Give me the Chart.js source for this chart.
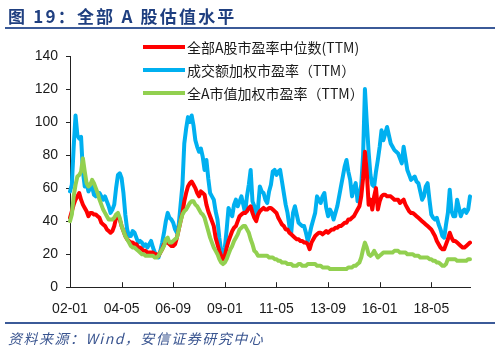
<!DOCTYPE html>
<html>
<head>
<meta charset="utf-8">
<script src="https://cdn.jsdelivr.net/npm/chart.js@4.4.1/dist/chart.umd.min.js"></script>
<style>
  html, body { margin: 0; padding: 0; background: #fff; }
  #wrap { position: relative; width: 500px; height: 347px; overflow: hidden; }
  #chart { position: absolute; left: 0; top: 0; }
  .title {
    position: absolute; left: 8px; top: 3px;
    font: bold 17px "Noto Sans CJK SC", sans-serif; letter-spacing: 2.2px;
    color: #1f3f80; white-space: nowrap;
  }
  .rule { position: absolute; left: 5px; right: 5px; background: #3b5a98; }
  .source {
    position: absolute; left: 8px; top: 328px;
    font: italic 14px "Noto Sans CJK SC", sans-serif; letter-spacing: 1.5px;
    color: #3a5590; white-space: nowrap;
  }
</style>
</head>
<body>
<div id="wrap">
  <canvas id="chart" width="500" height="347"></canvas>
  <div class="title">图 19：全部 A 股估值水平</div>
  <div class="rule" style="top:27px;height:2px"></div>
  <div class="rule" style="top:322px;height:1.5px"></div>
  <div class="source">资料来源：Wind，安信证券研究中心</div>
</div>
<script>
// 月度序列：2002-01 起
const startYear = 2002;
const monthCount = 218;
const tickLabels = ['02-01', '04-05', '06-09', '09-01', '11-05', '13-09', '16-01', '18-05'];
const seriesNames = ['全部A股市盈率中位数(TTM)', '成交额加权市盈率（TTM）', '全A市值加权市盈率（TTM）'];

// 全部A股市盈率中位数
const medianPE = [
  42, 46, 50, 53, 55, 57, 53, 50, 48, 46, 43, 45,
  45, 44, 44, 43, 42, 39, 38, 37, 35, 34, 33, 34,
  37, 42, 43, 41, 37, 34, 31, 29, 28, 27, 27, 26,
  26, 24, 24, 23, 22, 22, 21, 21, 21, 21, 20, 20,
  19, 21, 23, 26, 27, 27, 26, 25, 25, 26, 30, 35,
  40, 45, 52, 57, 61, 63, 64, 62, 60, 57, 55, 58,
  57, 56, 50, 46, 43, 40, 37, 30, 26, 22, 19, 17,
  19, 24, 28, 31, 34, 36, 37, 40, 43, 44, 45, 45,
  46, 48, 49, 45, 42, 40, 44, 46, 47, 48, 47, 47,
  48, 48, 47, 46, 45, 42, 40, 38, 37, 35, 35, 33,
  32, 31, 30, 29, 29, 28, 28, 27, 27, 26, 23, 27,
  29, 31, 32, 33, 33, 32, 33, 34, 33, 34, 35, 35,
  36, 36, 37, 37, 38, 39, 39, 41, 41, 42, 43, 45,
  47, 49, 55, 66, 82, 70, 50, 53, 47, 55, 60, 47,
  52, 55, 56, 56, 55, 55, 55, 54, 53, 53, 53, 51,
  52, 53, 50, 48, 46, 45, 45, 44, 43, 42, 41, 40,
  39, 38, 37, 36, 35, 33, 31, 28, 26, 24, 23, 23,
  26, 29, 33, 30, 28, 28, 27, 26, 25, 24, 24, 25,
  26, 27
];

// 成交额加权市盈率
const turnoverPE = [
  58, 62, 85, 104, 92, 90, 91, 70, 61, 63, 58, 60,
  61, 56, 55, 57, 57, 55, 53, 55, 52, 49, 45, 47,
  50, 60, 68, 69, 66, 57, 44, 35, 31, 31, 34, 33,
  30, 27, 28, 27, 25, 26, 24, 26, 28, 24, 21, 19,
  18, 22, 27, 33, 40, 45, 42, 41, 39, 35, 33, 38,
  50, 62, 87, 96, 103, 100, 104, 98, 89, 85, 82, 84,
  79, 71, 77, 66, 57, 55, 53, 46, 41, 30, 22, 19,
  24, 35, 48, 45, 43, 50, 53, 49, 52, 55, 50, 45,
  55, 62, 71, 52, 49, 43, 48, 61, 58, 57, 53, 51,
  58, 62, 70, 71, 68, 70, 71, 64, 57, 50, 45, 37,
  33, 45, 49, 44, 39, 38, 37, 37, 33, 28, 32, 37,
  41, 45, 55, 53, 51, 55, 57, 48, 43, 47, 45, 41,
  45, 49, 55, 61, 67, 73, 77, 70, 65, 55, 60, 63,
  52, 56, 62, 80, 120, 100, 82, 68, 62, 61, 70, 77,
  85, 95, 89, 93, 97, 92, 87, 85, 83, 82, 81, 78,
  75, 85, 78, 71, 68, 65, 66, 67, 64, 63, 58, 53,
  55, 61, 63, 53, 44, 42, 41, 42, 38, 35, 31, 30,
  38, 45, 59, 46, 43, 43, 53, 48, 43, 46, 47, 45,
  47, 55
];

// 全A市值加权市盈率
const capPE = [
  40, 44, 55, 62, 67, 68, 70, 78, 70, 63, 61, 62,
  65, 63, 60, 57, 53, 50, 47, 45, 43, 41, 41, 41,
  42, 44, 45, 42, 37, 34, 31, 29, 27, 25, 24, 24,
  23, 22, 21, 20, 20, 19, 19, 19, 19, 19, 18, 18,
  19, 21, 23, 25, 29, 30, 27, 27, 28, 29, 30, 35,
  40, 44, 46, 47, 49, 51, 52, 52, 50, 49, 47, 45,
  44, 42, 38, 34, 30, 27, 24, 22, 20, 17, 15, 14,
  15, 17, 20, 23, 25, 28, 30, 32, 35, 36, 37, 37,
  35, 33, 29, 26, 22, 21, 19, 19, 19, 19, 19, 19,
  18, 18, 18, 17, 17, 16, 16, 15, 15, 15, 14, 14,
  14, 13, 13, 13, 14, 14, 13, 13, 13, 14, 14, 14,
  14, 14, 13, 13, 13, 12, 12, 12, 12, 11, 11, 11,
  11, 11, 11, 11, 11, 11, 11, 12, 12, 12, 13, 13,
  14, 15, 18, 23, 27, 24, 20, 19, 20, 22, 20, 18,
  19, 20, 21, 21, 21, 21, 21, 21, 22, 22, 22, 21,
  21, 21, 21, 20, 20, 20, 20, 19, 19, 19, 18, 18,
  18, 18, 18, 17, 17, 16, 16, 15, 15, 14, 13, 13,
  14, 17, 17, 17, 17, 17, 16, 16, 16, 16, 16, 16,
  17, 17
];

const months = [];
for (let i = 0; i < monthCount; i++) {
  const y = startYear + Math.floor(i / 12);
  const m = (i % 12) + 1;
  months.push(String(y % 100).padStart(2, '0') + '-' + String(m).padStart(2, '0'));
}

const axisFont = { family: '"Liberation Sans", Arial, sans-serif', size: 14 };

// x 轴刻度线朝内，只画有标签的月份
const innerTicks = {
  id: 'innerTicks',
  afterDraw(chart) {
    const xs = chart.scales.x;
    const ctx = chart.ctx;
    ctx.save();
    ctx.strokeStyle = '#222';
    ctx.lineWidth = 1;
    months.forEach((lab, i) => {
      if (!tickLabels.includes(lab) || i === 0) return;
      const px = Math.round(xs.getPixelForValue(i)) + 0.5;
      ctx.beginPath();
      ctx.moveTo(px, xs.top);
      ctx.lineTo(px, xs.top - 5);
      ctx.stroke();
    });
    ctx.restore();
  }
};

// 图例：右上角三行
const lineLegend = {
  id: 'lineLegend',
  afterDraw(chart) {
    const ctx = chart.ctx;
    ctx.save();
    ctx.font = '14px "Noto Sans CJK SC", sans-serif';
    ctx.textBaseline = 'middle';
    chart.data.datasets.forEach((ds, i) => {
      const y = 47 + i * 23;
      ctx.strokeStyle = ds.borderColor;
      ctx.lineWidth = 4;
      ctx.beginPath();
      ctx.moveTo(143, y);
      ctx.lineTo(185, y);
      ctx.stroke();
      ctx.fillStyle = '#1a1a1a';
      ctx.fillText(ds.label, 187, y + 1);
    });
    ctx.restore();
  }
};

new Chart(document.getElementById('chart'), {
  type: 'line',
  data: {
    labels: months,
    datasets: [
      { label: seriesNames[0], data: medianPE, borderColor: '#ff0000', order: 1 },
      { label: seriesNames[1], data: turnoverPE, borderColor: '#00b0f0', order: 2 },
      { label: seriesNames[2], data: capPE, borderColor: '#92d050', order: 0 }
    ]
  },
  options: {
    responsive: false,
    animation: false,
    devicePixelRatio: 1,
    layout: { padding: { top: 56, right: 30, bottom: 23, left: 0 } },
    elements: {
      point: { radius: 0 },
      line: { borderWidth: 4, tension: 0, borderJoinStyle: 'round', borderCapStyle: 'round' }
    },
    scales: {
      x: {
        grid: { display: false },
        border: { display: true, color: '#222', width: 1 },
        ticks: {
          display: true,
          autoSkip: false,
          maxRotation: 0,
          minRotation: 0,
          padding: 6,
          color: '#1a1a1a',
          font: axisFont,
          callback: (value, index) => (tickLabels.includes(months[index]) ? months[index] : '')
        }
      },
      y: {
        min: 0,
        max: 140,
        grid: { drawOnChartArea: false, tickLength: 4, color: '#222' },
        border: { display: true, color: '#222', width: 1 },
        ticks: { stepSize: 20, padding: 8, color: '#1a1a1a', font: axisFont },
        afterFit: (scale) => { scale.width = 70; }
      }
    },
    plugins: {
      legend: { display: false },
      tooltip: { enabled: false }
    }
  },
  plugins: [innerTicks, lineLegend]
});
</script>
</body>
</html>
